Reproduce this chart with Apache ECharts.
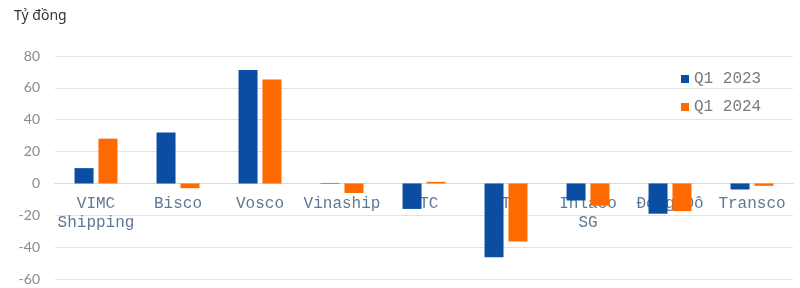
<!DOCTYPE html>
<html><head><meta charset="utf-8">
<script src="https://cdn.jsdelivr.net/npm/echarts@6/dist/echarts.min.js"></script>
<style>html,body{margin:0;padding:0;background:#fff}#c{width:800px;height:288px}</style>
</head><body><div id="c"></div>
<script>
const categories = ['VIMC\nShipping','Bisco','Vosco','Vinaship','VTC','STC','Inlaco\nSG','Đông Đô','Transco'];
const q1_2023 = [9.6, 32, 71.2, 0.3, -16, -46.4, -10.7, -19, -3.8];
const q1_2024 = [28.1, -3, 65.3, -6, 1, -36.5, -14, -17.4, -1.5];
const yTicks = {min: -60, max: 80, interval: 20};

const chart = echarts.init(document.getElementById('c'));
chart.setOption({
  animation: false,
  graphic: [{type:'text', left: 14, top: 9, style:{text:'Tỷ đồng', font:'14px "Noto Sans"', fill:'#333'}}],
  legend: {
    orient: 'vertical', left: 676, top: 66, itemWidth: 8, itemHeight: 8, icon: 'rect', itemGap: 12,
    textStyle: {fontFamily: '"Liberation Mono"', fontSize: 16, color: '#7a7a7a'},
    data: ['Q1 2023','Q1 2024']
  },
  grid: {left: 55, right: 7, top: 56, bottom: 9, containLabel: false, outerBoundsMode: 'none'},
  xAxis: {
    type: 'category', data: categories, offset: -96, z: 0,
    axisLine: {onZero: false, lineStyle: {color: '#d9d9d9'}},
    axisTick: {show: false},
    axisLabel: {interval: 0, margin: 11, fontFamily: '"Liberation Mono"', fontSize: 16, lineHeight: 19, color: '#5d7894'}
  },
  yAxis: {
    type: 'value', min: yTicks.min, max: yTicks.max, interval: yTicks.interval,
    axisLine: {show: false}, axisTick: {show: false},
    splitLine: {lineStyle: {color: '#e3e3e3'}},
    axisLabel: {margin: 15, fontFamily: 'Lato', fontSize: 14, color: '#8a8a8a'}
  },
  series: [
    {name: 'Q1 2023', type: 'bar', data: q1_2023, barWidth: 19, barGap: '26%', z: 5, itemStyle: {color: '#0b4da2'}},
    {name: 'Q1 2024', type: 'bar', data: q1_2024, barWidth: 19, z: 5, itemStyle: {color: '#ff6a00'}}
  ]
});
</script></body></html>
